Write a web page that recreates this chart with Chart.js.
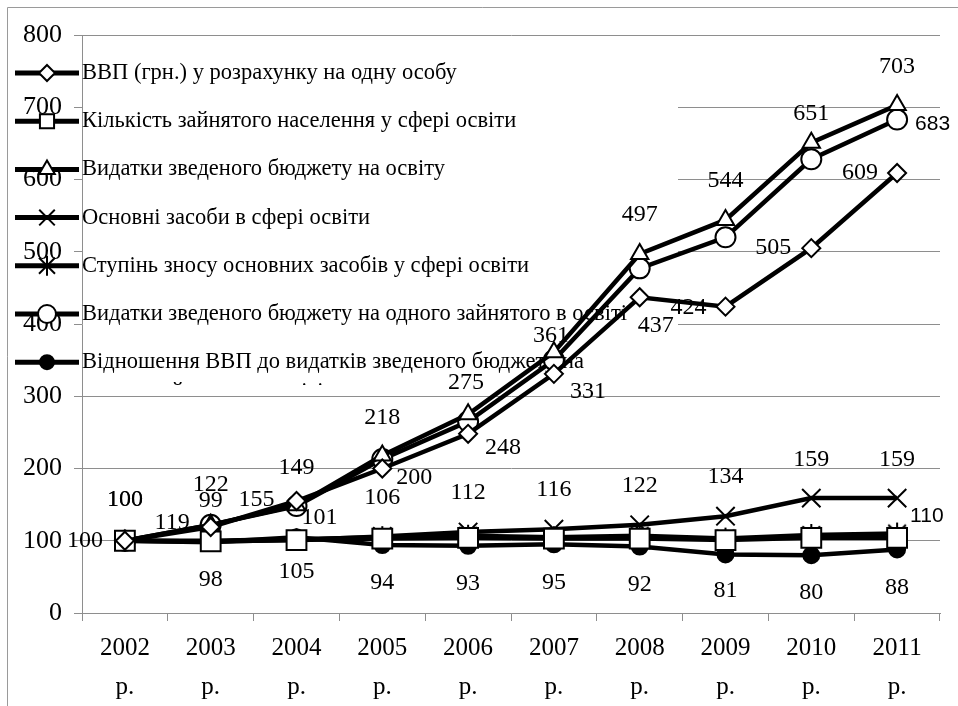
<!DOCTYPE html>
<html>
<head>
<meta charset="utf-8">
<script src="https://cdn.jsdelivr.net/npm/chart.js@4.4.1/dist/chart.umd.min.js"></script>
<style>
  html, body { margin: 0; padding: 0; background: #fff; }
  canvas { display: block; }
</style>
</head>
<body>
<canvas id="indexChart" width="958" height="706"></canvas>
<script>
// categories (years) and series values, indices 2002 = 100
const years = ['2002', '2003', '2004', '2005', '2006', '2007', '2008', '2009', '2010', '2011'];
const yTicks = [0, 100, 200, 300, 400, 500, 600, 700, 800];

const seriesNames = [
    'ВВП (грн.) у розрахунку на одну особу',
    'Кількість зайнятого населення у сфері освіти',
    'Видатки зведеного бюджету на освіту',
    'Основні засоби в сфері освіти',
    'Ступінь зносу основних засобів у сфері освіти',
    'Видатки зведеного бюджету на одного зайнятого в освіті',
    'Відношення ВВП до видатків зведеного бюджету на одного зайнятого в освіті'
];

const gdpPerCapita      = [100, 119, 155, 200, 248, 331, 437, 424, 505, 609];
const eduEmployment     = [100, 99, 101, 103, 104, 103, 103, 101, 104, 104];
const eduBudget         = [100, 122, 149, 218, 275, 361, 497, 544, 651, 703];
const eduFixedAssets    = [100, 99, 101, 106, 112, 116, 122, 134, 159, 159];
const eduDepreciation   = [100, 100, 102, 105, 107, 105, 107, 103, 108, 110];
const budgetPerEmployee = [100, 122, 148, 213, 265, 350, 477, 520, 628, 683];
const gdpToBudget       = [100, 98, 105, 94, 93, 95, 92, 81, 80, 88];

const SERIF = '"Liberation Serif", "Times New Roman", serif';
const SANS = '"Liberation Sans", Arial, sans-serif';

// Excel-like asterisk marker: an X with a vertical stroke
function makeAsterisk(r) {
    const c = document.createElement('canvas');
    const size = r * 2 + 4;
    c.width = size; c.height = size;
    const g = c.getContext('2d');
    const m = size / 2, s = r * 0.8;
    g.strokeStyle = '#000';
    g.lineWidth = 2;
    g.beginPath();
    g.moveTo(m - s, m - s); g.lineTo(m + s, m + s);
    g.moveTo(m - s, m + s); g.lineTo(m + s, m - s);
    g.moveTo(m, m - r); g.lineTo(m, m + r);
    g.stroke();
    return c;
}
const asterisk = makeAsterisk(11);

// marker look per series (chart radius, legend radius)
const markers = [
    { style: 'rectRot',  radius: 9,  legend: 8,  fill: '#fff' },
    { style: 'rect',     radius: 14, legend: 10, fill: '#fff' },
    { style: 'triangle', radius: 10, legend: 9,  fill: '#fff' },
    { style: 'crossRot', radius: 13, legend: 11, fill: '#fff' },
    { style: 'star',     radius: 11, legend: 10, fill: '#fff' },
    { style: 'circle',   radius: 10, legend: 9,  fill: '#fff' },
    { style: 'circle',   radius: 8,  legend: 7,  fill: '#000' }
];

// where data labels sit relative to their point: [dx, dy, align, font]
const B = (dy) => [0, dy, 'center', SERIF];
const labelPlacement = {
    0: [[-22, 0, 'right', SERIF], [-21, -4, 'right', SERIF], [-22, -1, 'right', SERIF], [14, 9, 'left', SERIF],
        [17, 14, 'left', SERIF], [16, 18, 'left', SERIF], [-2, 28, 'left', SERIF], [-19, 1, 'right', SERIF],
        [-20, 0, 'right', SERIF], [-19, 0, 'right', SERIF]],
    2: [B(-41), B(-40), B(-38), B(-38), [-2, -32, 'center', SERIF], [-3, -16, 'center', SERIF],
        B(-39), B(-39), B(-29), B(-38)],
    3: [B(-41), B(-41), [23, -22, 'center', SERIF], B(-39), B(-39), B(-39), B(-39), B(-39), B(-38), B(-38)],
    4: [null, null, null, null, null, null, null, null, null, [13, -17, 'left', SANS]],
    5: [null, null, null, null, null, null, null, null, null, [18, 5, 'left', SANS]],
    6: [null, B(38), B(35), B(38), B(38), B(38), B(38), B(36), B(38), B(38)]
};

function drawMarker(ctx, m, x, y) {
    const r = m.legend;
    ctx.beginPath();
    if (m.style === 'circle') {
        ctx.arc(x, y, r, 0, Math.PI * 2);
    } else if (m.style === 'rectRot') {
        ctx.moveTo(x, y - r); ctx.lineTo(x + r, y); ctx.lineTo(x, y + r); ctx.lineTo(x - r, y); ctx.closePath();
    } else if (m.style === 'rect') {
        const s = r * Math.SQRT1_2;
        ctx.rect(x - s, y - s, s * 2, s * 2);
    } else if (m.style === 'triangle') {
        ctx.moveTo(x, y - r); ctx.lineTo(x + r * 0.87, y + r * 0.5); ctx.lineTo(x - r * 0.87, y + r * 0.5); ctx.closePath();
    } else if (m.style === 'crossRot') {
        const s = r * Math.SQRT1_2;
        ctx.moveTo(x - s, y - s); ctx.lineTo(x + s, y + s);
        ctx.moveTo(x - s, y + s); ctx.lineTo(x + s, y - s);
    } else if (m.style === 'star') {
        const s = r * 0.8;
        ctx.moveTo(x - s, y - s); ctx.lineTo(x + s, y + s);
        ctx.moveTo(x - s, y + s); ctx.lineTo(x + s, y - s);
        ctx.moveTo(x, y - r); ctx.lineTo(x, y + r);
    }
    if (m.style !== 'crossRot' && m.style !== 'star') {
        ctx.fillStyle = m.fill;
        ctx.fill();
    }
    ctx.strokeStyle = '#000';
    ctx.lineWidth = 2;
    ctx.stroke();
}

// legend drawn inside the plot (white box hides the grid), labels and outer frame
const overlayPlugin = {
    id: 'overlay',
    beforeDatasetsDraw(chart) {
        const ctx = chart.ctx;
        const area = chart.chartArea;
        ctx.save();
        ctx.fillStyle = '#fff';
        ctx.fillRect(area.left + 1, 48, 678 - area.left - 1, 340);

        ctx.beginPath();
        ctx.rect(0, 40, 700, 345);
        ctx.clip();
        ctx.font = '22.5px ' + SERIF;
        ctx.textBaseline = 'middle';
        ctx.textAlign = 'left';
        seriesNames.forEach((name, i) => {
            const y = 73 + i * 48.2;
            ctx.strokeStyle = '#000';
            ctx.lineWidth = 5;
            ctx.beginPath();
            ctx.moveTo(15, y);
            ctx.lineTo(79, y);
            ctx.stroke();
            drawMarker(ctx, markers[i], 47, y);
            ctx.fillStyle = '#000';
            if (i === seriesNames.length - 1) {
                ctx.fillText('Відношення ВВП до видатків зведеного бюджету на', 82, y);
                ctx.fillText('одного зайнятого в освіті', 82, y + 30);
            } else {
                ctx.fillText(name, 82, y);
            }
        });
        ctx.restore();
    },
    afterDatasetsDraw(chart) {
        const ctx = chart.ctx;
        ctx.save();
        ctx.fillStyle = '#000';
        ctx.textBaseline = 'middle';
        chart.data.datasets.forEach((ds, i) => {
            const spec = labelPlacement[i];
            if (!spec) return;
            const meta = chart.getDatasetMeta(i);
            meta.data.forEach((pt, j) => {
                const s = spec[j];
                if (!s) return;
                ctx.font = (s[3] === SANS ? '21px ' : '24px ') + s[3];
                ctx.textAlign = s[2];
                ctx.fillText(String(ds.data[j]), pt.x + s[0], pt.y + s[1]);
            });
        });
        ctx.restore();
    },
    afterDraw(chart) {
        const ctx = chart.ctx;
        ctx.save();
        ctx.strokeStyle = '#9a9a9a';
        ctx.lineWidth = 1;
        ctx.beginPath();
        ctx.moveTo(7.5, chart.height);
        ctx.lineTo(7.5, 7.5);
        ctx.lineTo(chart.width, 7.5);
        ctx.stroke();
        ctx.restore();
    }
};

const values = [gdpPerCapita, eduEmployment, eduBudget, eduFixedAssets, eduDepreciation, budgetPerEmployee, gdpToBudget];

new Chart(document.getElementById('indexChart').getContext('2d'), {
    type: 'line',
    data: {
        labels: years.map(y => [y, 'р.']),
        datasets: values.map((v, i) => ({
            label: seriesNames[i],
            data: v,
            borderColor: '#000',
            borderWidth: 4.5,
            tension: 0,
            pointStyle: markers[i].style === 'star' ? asterisk : markers[i].style,
            pointRadius: markers[i].radius,
            pointBackgroundColor: markers[i].fill,
            pointBorderColor: '#000',
            pointBorderWidth: 2
        }))
    },
    options: {
        responsive: false,
        animation: false,
        devicePixelRatio: 1,
        layout: { padding: { left: 8, top: 35, right: 18, bottom: 0 } },
        plugins: {
            legend: { display: false },
            tooltip: { enabled: false }
        },
        scales: {
            x: {
                offset: true,
                grid: { offset: true, drawOnChartArea: false, tickLength: 8, color: '#8e8e8e' },
                border: { color: '#8e8e8e' },
                ticks: {
                    color: '#000',
                    font: { family: SERIF, size: 25, lineHeight: 1.55 },
                    padding: 8,
                    maxRotation: 0,
                    autoSkip: false
                },
                afterFit: (scale) => { scale.height = 93; }
            },
            y: {
                min: 0,
                max: 800,
                afterBuildTicks: (scale) => { scale.ticks = yTicks.map(v => ({ value: v })); },
                grid: { color: '#8e8e8e', tickLength: 8 },
                border: { color: '#8e8e8e' },
                ticks: {
                    color: '#000',
                    font: { family: SERIF, size: 26 },
                    padding: 12
                },
                afterFit: (scale) => { scale.width = 74; }
            }
        }
    },
    plugins: [overlayPlugin]
});
</script>
</body>
</html>
